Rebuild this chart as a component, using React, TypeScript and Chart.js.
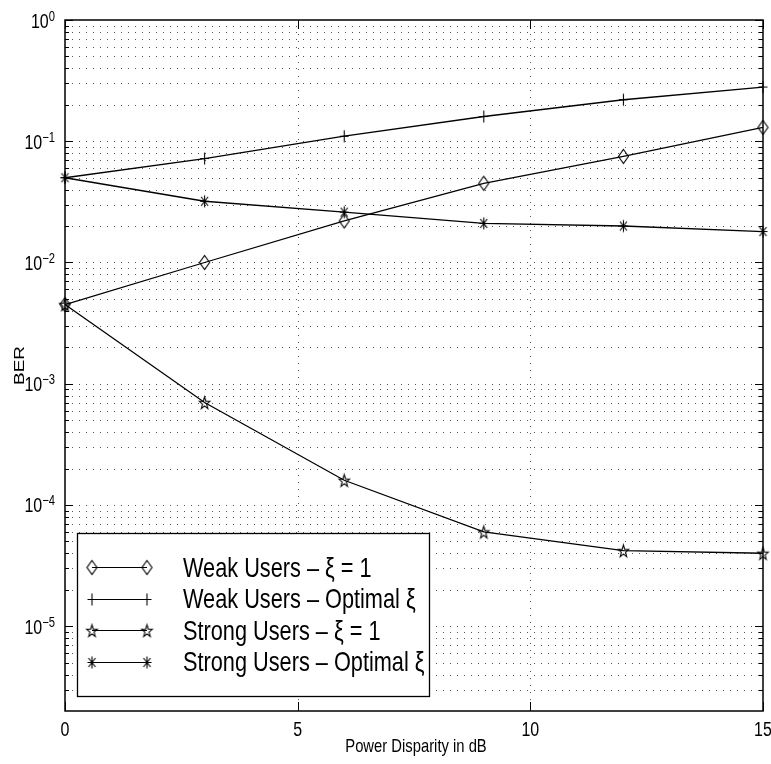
import { useEffect, useRef } from "react";
import { Chart, registerables } from "chart.js";

Chart.register(...registerables);

// Power disparity (dB) at which each BER value was simulated
const powerDisparity = [0, 3, 6, 9, 12, 15];

// Bit error rates per user group and power-control scheme
const weakUnit = [4.5e-3, 1.0e-2, 2.2e-2, 4.5e-2, 7.5e-2, 0.13];
const weakOptimal = [0.05, 0.072, 0.11, 0.16, 0.22, 0.28];
const strongUnit = [4.5e-3, 7.0e-4, 1.6e-4, 6.0e-5, 4.2e-5, 4.0e-5];
const strongOptimal = [0.05, 0.032, 0.026, 0.021, 0.02, 0.018];

const seriesLabels = [
  "Weak Users – ξ = 1",
  "Weak Users – Optimal ξ",
  "Strong Users – ξ = 1",
  "Strong Users – Optimal ξ",
];

const xTicks = [0, 5, 10, 15];
const xGrid = [5, 10];
const yDecades = [0, -1, -2, -3, -4, -5];
const xMin = 0;
const xMax = 15;
const yMin = 2e-6;
const yMax = 1;

const xTitle = "Power Disparity in dB";
const yTitle = "BER";

const FONT = '"Liberation Sans", Arial, Helvetica, sans-serif';
const SQUASH = 0.8;

type MarkerKind = "diamond" | "plus" | "pentagram" | "asterisk";

function makeMarker(kind: MarkerKind): HTMLCanvasElement {
  const cv = document.createElement("canvas");
  cv.width = 21;
  cv.height = 21;
  const ctx = cv.getContext("2d")!;
  const c = 10.5;
  ctx.strokeStyle = "#000";
  ctx.lineWidth = 1.1;
  ctx.beginPath();
  if (kind === "diamond") {
    ctx.moveTo(c, c - 7);
    ctx.lineTo(c + 5, c);
    ctx.lineTo(c, c + 7);
    ctx.lineTo(c - 5, c);
    ctx.closePath();
  } else if (kind === "plus") {
    ctx.moveTo(c, c - 6);
    ctx.lineTo(c, c + 6);
    ctx.moveTo(c - 4.5, c);
    ctx.lineTo(c + 4.5, c);
  } else if (kind === "pentagram") {
    const R = 6.5;
    for (let i = 0; i < 10; i++) {
      const a = -Math.PI / 2 + (i * Math.PI) / 5;
      const r = i % 2 === 0 ? R : R * 0.4;
      const px = c + r * Math.cos(a) * 0.85;
      const py = c + 0.8 + r * Math.sin(a);
      if (i === 0) ctx.moveTo(px, py);
      else ctx.lineTo(px, py);
    }
    ctx.closePath();
  } else {
    ctx.moveTo(c, c - 6);
    ctx.lineTo(c, c + 6);
    ctx.moveTo(c - 4.5, c);
    ctx.lineTo(c + 4.5, c);
    ctx.moveTo(c - 3.5, c - 4.5);
    ctx.lineTo(c + 3.5, c + 4.5);
    ctx.moveTo(c + 3.5, c - 4.5);
    ctx.lineTo(c - 3.5, c + 4.5);
  }
  ctx.stroke();
  return cv;
}

function drawText(
  ctx: CanvasRenderingContext2D,
  s: string,
  x: number,
  y: number,
  size: number,
  align: CanvasTextAlign,
  baseline: CanvasTextBaseline,
  rotated = false,
  squash = SQUASH
) {
  ctx.save();
  ctx.translate(x, y);
  ctx.scale(squash, 1);
  if (rotated) ctx.rotate(-Math.PI / 2);
  ctx.font = `${size}px ${FONT}`;
  ctx.textAlign = align;
  ctx.textBaseline = baseline;
  ctx.fillStyle = "#000";
  ctx.fillText(s, 0, 0);
  ctx.restore();
}

function rawWidth(ctx: CanvasRenderingContext2D, s: string, size: number) {
  ctx.save();
  ctx.font = `${size}px ${FONT}`;
  const w = ctx.measureText(s).width;
  ctx.restore();
  return w;
}

function hLine(ctx: CanvasRenderingContext2D, x1: number, x2: number, y: number) {
  ctx.beginPath();
  ctx.moveTo(x1, y);
  ctx.lineTo(x2, y);
  ctx.stroke();
}

function vLine(ctx: CanvasRenderingContext2D, x: number, y1: number, y2: number) {
  ctx.beginPath();
  ctx.moveTo(x, y1);
  ctx.lineTo(x, y2);
  ctx.stroke();
}

function minorValues(): number[] {
  const out: number[] = [];
  for (let k = -6; k <= 0; k++) {
    for (let m = 1; m <= 9; m++) {
      const v = m * Math.pow(10, k);
      if (v > yMin * 1.0001 && v < yMax * 0.9999) out.push(v);
    }
  }
  return out;
}

export default function App() {
  const canvasRef = useRef<HTMLCanvasElement | null>(null);

  useEffect(() => {
    const canvas = canvasRef.current;
    if (!canvas) return;

    const markers: Record<MarkerKind, HTMLCanvasElement> = {
      diamond: makeMarker("diamond"),
      plus: makeMarker("plus"),
      pentagram: makeMarker("pentagram"),
      asterisk: makeMarker("asterisk"),
    };
    const seriesValues = [weakUnit, weakOptimal, strongUnit, strongOptimal];
    const seriesMarkers: MarkerKind[] = ["diamond", "plus", "pentagram", "asterisk"];

    const gridPlugin = {
      id: "dottedGrid",
      beforeDatasetsDraw(chart: any) {
        const { ctx, chartArea: a, scales } = chart;
        ctx.save();
        ctx.strokeStyle = "#555";
        ctx.lineWidth = 1;
        ctx.setLineDash([1, 6]);
        for (const v of minorValues()) {
          const y = Math.round(scales.y.getPixelForValue(v)) + 0.5;
          hLine(ctx, a.left, a.right, y);
        }
        for (const v of xGrid) {
          const x = Math.round(scales.x.getPixelForValue(v)) + 0.5;
          vLine(ctx, x, a.top, a.bottom);
        }
        ctx.restore();
      },
    };

    const framePlugin = {
      id: "frame",
      afterDraw(chart: any) {
        const { ctx, chartArea: a, scales } = chart;
        ctx.save();
        ctx.strokeStyle = "#000";
        ctx.lineWidth = 1;
        ctx.setLineDash([]);

        // y ticks, inward on both sides
        for (const v of minorValues()) {
          const y = Math.round(scales.y.getPixelForValue(v)) + 0.5;
          hLine(ctx, a.left, a.left + 4, y);
          hLine(ctx, a.right - 4, a.right, y);
        }
        for (const k of yDecades) {
          const y = Math.round(scales.y.getPixelForValue(Math.pow(10, k))) + 0.5;
          hLine(ctx, a.left, a.left + 8, y);
          hLine(ctx, a.right - 8, a.right, y);
        }
        // x ticks, inward at bottom and top
        for (const v of xTicks) {
          const x = Math.round(scales.x.getPixelForValue(v)) + 0.5;
          vLine(ctx, x, a.bottom - 9, a.bottom);
          vLine(ctx, x, a.top, a.top + 9);
        }

        // axes box
        ctx.lineWidth = 1.5;
        ctx.strokeRect(a.left, a.top, a.right - a.left, a.bottom - a.top);

        // y tick labels as 10 with a superscript exponent
        const labelRight = 55;
        for (const k of yDecades) {
          const y = scales.y.getPixelForValue(Math.pow(10, k));
          const exp = k === 0 ? "0" : "−" + String(-k);
          const ew = rawWidth(ctx, exp, 14) * SQUASH;
          drawText(ctx, exp, labelRight - ew, y + 0.5, 14, "left", "alphabetic");
          drawText(ctx, "10", labelRight - ew, y + 7.5, 20, "right", "alphabetic");
        }

        // x tick labels
        for (const v of xTicks) {
          const x = scales.x.getPixelForValue(v);
          drawText(ctx, String(v), x, a.bottom + 25, 20, "center", "alphabetic");
        }

        // axis titles
        drawText(ctx, xTitle, (a.left + a.right) / 2 + 2, a.bottom + 41, 18.5, "center", "alphabetic");
        drawText(ctx, yTitle, 20, (a.top + a.bottom) / 2, 19, "center", "middle", true);

        // legend
        const lx = 77.5;
        const ly = 533.5;
        const lw = 352;
        const lh = 163;
        ctx.fillStyle = "#fff";
        ctx.fillRect(lx, ly, lw, lh);
        ctx.lineWidth = 1.3;
        ctx.strokeStyle = "#000";
        ctx.strokeRect(lx, ly, lw, lh);
        ctx.lineWidth = 1.1;
        const legendSize = 27.5;
        const textX = 183;
        const longest = Math.max(...seriesLabels.map((s) => rawWidth(ctx, s, legendSize)));
        const legendSquash = (lx + lw - 5 - textX) / longest;
        const rowY0 = 567;
        const rowStep = 31.6;
        seriesLabels.forEach((label, i) => {
          const ry = rowY0 + i * rowStep;
          hLine(ctx, 92, 147, Math.round(ry) + 0.5);
          const m = markers[seriesMarkers[i]];
          ctx.drawImage(m, 92 - m.width / 2, Math.round(ry) + 0.5 - m.height / 2);
          ctx.drawImage(m, 147 - m.width / 2, Math.round(ry) + 0.5 - m.height / 2);
          drawText(ctx, label, textX, ry + 9.5, legendSize, "left", "alphabetic", false, legendSquash);
        });

        ctx.restore();
      },
    };

    const chart = new Chart(canvas, {
      type: "line",
      data: {
        datasets: seriesValues.map((vals, i) => ({
          label: seriesLabels[i],
          data: powerDisparity.map((x, j) => ({ x, y: vals[j] })),
          borderColor: "#000",
          borderWidth: 1.3,
          pointStyle: markers[seriesMarkers[i]] as any,
          pointRadius: 6,
          tension: 0,
          fill: false,
          clip: false as any,
        })),
      },
      options: {
        animation: false,
        responsive: false,
        events: [],
        layout: { padding: { left: 65, top: 20, right: 8, bottom: 53 } },
        plugins: {
          legend: { display: false },
          tooltip: { enabled: false },
        },
        scales: {
          x: { type: "linear", min: xMin, max: xMax, display: false },
          y: { type: "logarithmic", min: yMin, max: yMax, display: false },
        },
      },
      plugins: [gridPlugin, framePlugin],
    });

    return () => chart.destroy();
  }, []);

  return (
    <div style={{ position: "absolute", left: 0, top: 0, width: 771, height: 764, background: "#fff" }}>
      <canvas ref={canvasRef} width={771} height={764} style={{ display: "block", width: 771, height: 764 }} />
    </div>
  );
}
